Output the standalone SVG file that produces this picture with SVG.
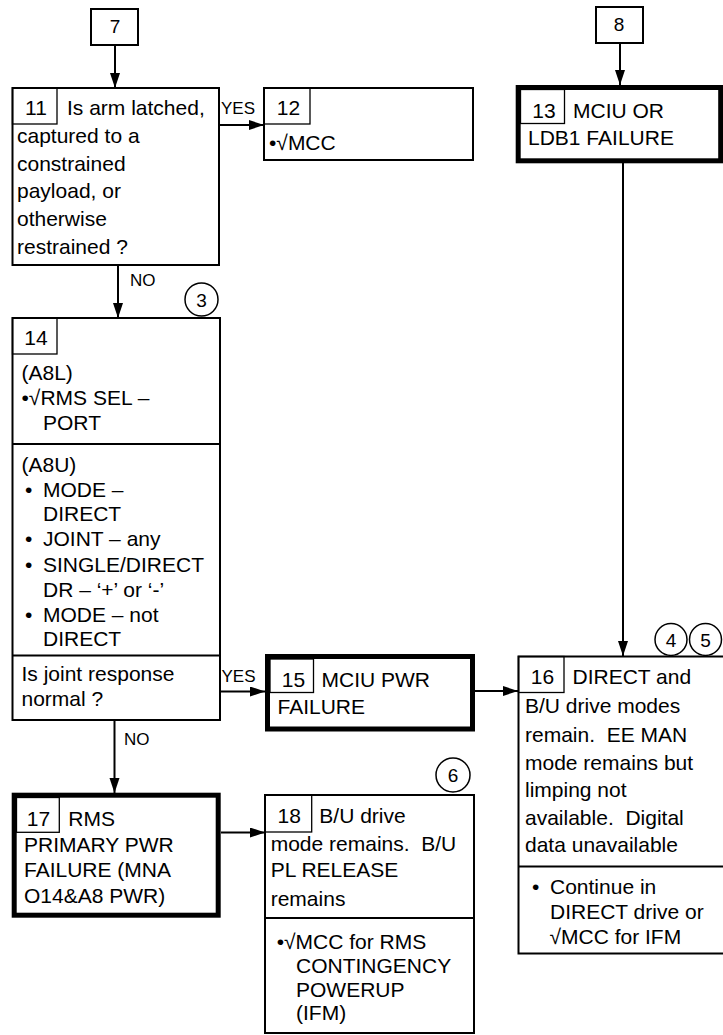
<svg xmlns="http://www.w3.org/2000/svg" width="723" height="1035" viewBox="0 0 723 1035">
<defs>
<marker id="ah" markerUnits="userSpaceOnUse" markerWidth="16" markerHeight="11" refX="15" refY="5" orient="auto">
<path d="M0,0 L15,5 L0,10 z" fill="#000"/>
</marker>
<style>
text{font-family:"Liberation Sans",Arial,sans-serif;font-size:21px;fill:#000;white-space:pre}
.lbl{font-size:17px}
.nb{fill:#fff;stroke:#000;stroke-width:2}
.thick{fill:#fff;stroke:#000;stroke-width:5}
.num{fill:none;stroke:#000;stroke-width:1.3}
.div{stroke:#000;stroke-width:2}
.cir{fill:#fff;stroke:#000;stroke-width:1.5}
.con{stroke:#000;stroke-width:2;fill:none;marker-end:url(#ah)}
.mid{text-anchor:middle}
</style>
</defs>
<rect width="723" height="1035" fill="#fff"/>

<g id="connectors">
<line class="con" x1="115" y1="45" x2="115" y2="88"/>
<line class="con" x1="620" y1="43" x2="620" y2="85"/>
<line class="con" x1="219" y1="125" x2="264" y2="125"/>
<line class="con" x1="118" y1="265" x2="118" y2="318"/>
<line class="con" x1="623" y1="163" x2="623" y2="656"/>
<line class="con" x1="220" y1="691.5" x2="265" y2="691.5"/>
<line class="con" x1="475" y1="691" x2="518" y2="691"/>
<line class="con" x1="114.5" y1="720" x2="114.5" y2="793"/>
<line class="con" x1="221" y1="832.5" x2="265" y2="832.5"/>
<text class="lbl" x="221" y="113.5">YES</text>
<text class="lbl" x="130" y="285.5">NO</text>
<text class="lbl" x="221.5" y="681.5">YES</text>
<text class="lbl" x="124" y="745">NO</text>
</g>

<g id="node7">
<rect class="nb" x="91" y="9" width="47" height="36"/>
<text class="mid" x="115" y="33" style="font-size:19px">7</text>
</g>

<g id="node8">
<rect class="nb" x="596" y="7" width="47" height="36"/>
<text class="mid" x="619" y="31" style="font-size:19px">8</text>
</g>

<g id="node11">
<rect class="nb" x="12.5" y="88" width="206.5" height="177"/>
<rect class="num" x="12.5" y="88" width="44.5" height="36"/>
<text class="mid" x="36" y="115">11</text>
<text x="67" y="115">Is arm latched,</text>
<text x="17" y="143">captured to a</text>
<text x="17" y="170.5">constrained</text>
<text x="17" y="198">payload, or</text>
<text x="17" y="226">otherwise</text>
<text x="17" y="253.5">restrained ?</text>
</g>

<g id="node12">
<rect class="nb" x="264" y="88" width="209" height="72"/>
<rect class="num" x="264" y="88" width="46" height="36"/>
<text class="mid" x="288.5" y="115">12</text>
<text x="269" y="150">•√MCC</text>
</g>

<g id="node13">
<rect class="thick" x="518.2" y="87.5" width="202.5" height="73.3"/>
<rect class="num" x="520.5" y="89.5" width="44" height="34"/>
<text class="mid" x="544" y="118">13</text>
<text x="573" y="118">MCIU OR</text>
<text x="528" y="145">LDB1 FAILURE</text>
</g>

<g id="node14">
<rect class="nb" x="12.5" y="318" width="207.5" height="402"/>
<rect class="num" x="12.5" y="318" width="44.5" height="36"/>
<text class="mid" x="36" y="345">14</text>
<text x="21.5" y="380">(A8L)</text>
<text x="21.5" y="405">•√RMS SEL –</text>
<text x="43" y="430">PORT</text>
<line class="div" x1="12.5" y1="444" x2="220" y2="444"/>
<text x="21.5" y="471.5">(A8U)</text>
<text x="25" y="496.5">•<tspan x="43">MODE –</tspan></text>
<text x="43" y="521">DIRECT</text>
<text x="25" y="546">•<tspan x="43">JOINT – any</tspan></text>
<text x="25" y="571.5">•<tspan x="43">SINGLE/DIRECT</tspan></text>
<text x="43" y="596.5">DR – ‘+’ or ‘-’</text>
<text x="25" y="621.5">•<tspan x="43">MODE – not</tspan></text>
<text x="43" y="646">DIRECT</text>
<line class="div" x1="12.5" y1="655.5" x2="220" y2="655.5"/>
<text x="21.5" y="680.5">Is joint response</text>
<text x="21.5" y="705.5">normal ?</text>
</g>
<g id="circle3">
<circle class="cir" cx="201.5" cy="299.5" r="16.5"/>
<text class="mid" x="201.5" y="306.5" style="font-size:19px">3</text>
</g>

<g id="node15">
<rect class="thick" x="267.5" y="656.5" width="205" height="72.5"/>
<rect class="num" x="270" y="659" width="43.5" height="33.5"/>
<text class="mid" x="293.5" y="686.5">15</text>
<text x="321.5" y="686.5">MCIU PWR</text>
<text x="277.5" y="713.5">FAILURE</text>
</g>

<g id="node16">
<rect class="nb" x="518.5" y="656.5" width="210" height="297"/>
<rect class="num" x="518.5" y="656.5" width="45.5" height="36"/>
<text class="mid" x="542.5" y="684.3">16</text>
<text x="572.5" y="684.3">DIRECT and</text>
<text x="525" y="713">B/U drive modes</text>
<text x="525" y="741.5">remain.  EE MAN</text>
<text x="525" y="769.5">mode remains but</text>
<text x="525" y="797">limping not</text>
<text x="525" y="825">available.  Digital</text>
<text x="525" y="851.5">data unavailable</text>
<line class="div" x1="518.5" y1="866.5" x2="723" y2="866.5"/>
<text x="532" y="894">•<tspan x="550">Continue in</tspan></text>
<text x="550" y="919">DIRECT drive or</text>
<text x="549.5" y="944">√MCC for IFM</text>
</g>
<g id="circle4">
<circle class="cir" cx="671" cy="639.5" r="16"/>
<text class="mid" x="671" y="646.5" style="font-size:19px">4</text>
</g>
<g id="circle5">
<circle class="cir" cx="705.5" cy="639.5" r="16"/>
<text class="mid" x="705.5" y="646.5" style="font-size:19px">5</text>
</g>

<g id="node17">
<rect class="thick" x="14.2" y="795.2" width="204" height="120"/>
<rect class="num" x="16.5" y="797.5" width="42.8" height="34.8"/>
<text class="mid" x="38.5" y="825.7">17</text>
<text x="68.3" y="825.7">RMS</text>
<text x="24" y="851.7">PRIMARY PWR</text>
<text x="24" y="877.3">FAILURE (MNA</text>
<text x="24" y="903">O14&amp;A8 PWR)</text>
</g>

<g id="node18">
<rect class="nb" x="265" y="795" width="209" height="238"/>
<rect class="num" x="265" y="795" width="46.7" height="37"/>
<text class="mid" x="289.2" y="822.7">18</text>
<text x="319.3" y="822.7">B/U drive</text>
<text x="270.7" y="850.5">mode remains.  B/U</text>
<text x="270.7" y="877.3">PL RELEASE</text>
<text x="270.7" y="906">remains</text>
<line class="div" x1="265" y1="918" x2="474" y2="918"/>
<text x="276.7" y="949.3">•√MCC for RMS</text>
<text x="296" y="973.3">CONTINGENCY</text>
<text x="296" y="997.3">POWERUP</text>
<text x="296" y="1020">(IFM)</text>
</g>
<g id="circle6">
<circle class="cir" cx="453" cy="775" r="17"/>
<text class="mid" x="453" y="782" style="font-size:19px">6</text>
</g>
</svg>
